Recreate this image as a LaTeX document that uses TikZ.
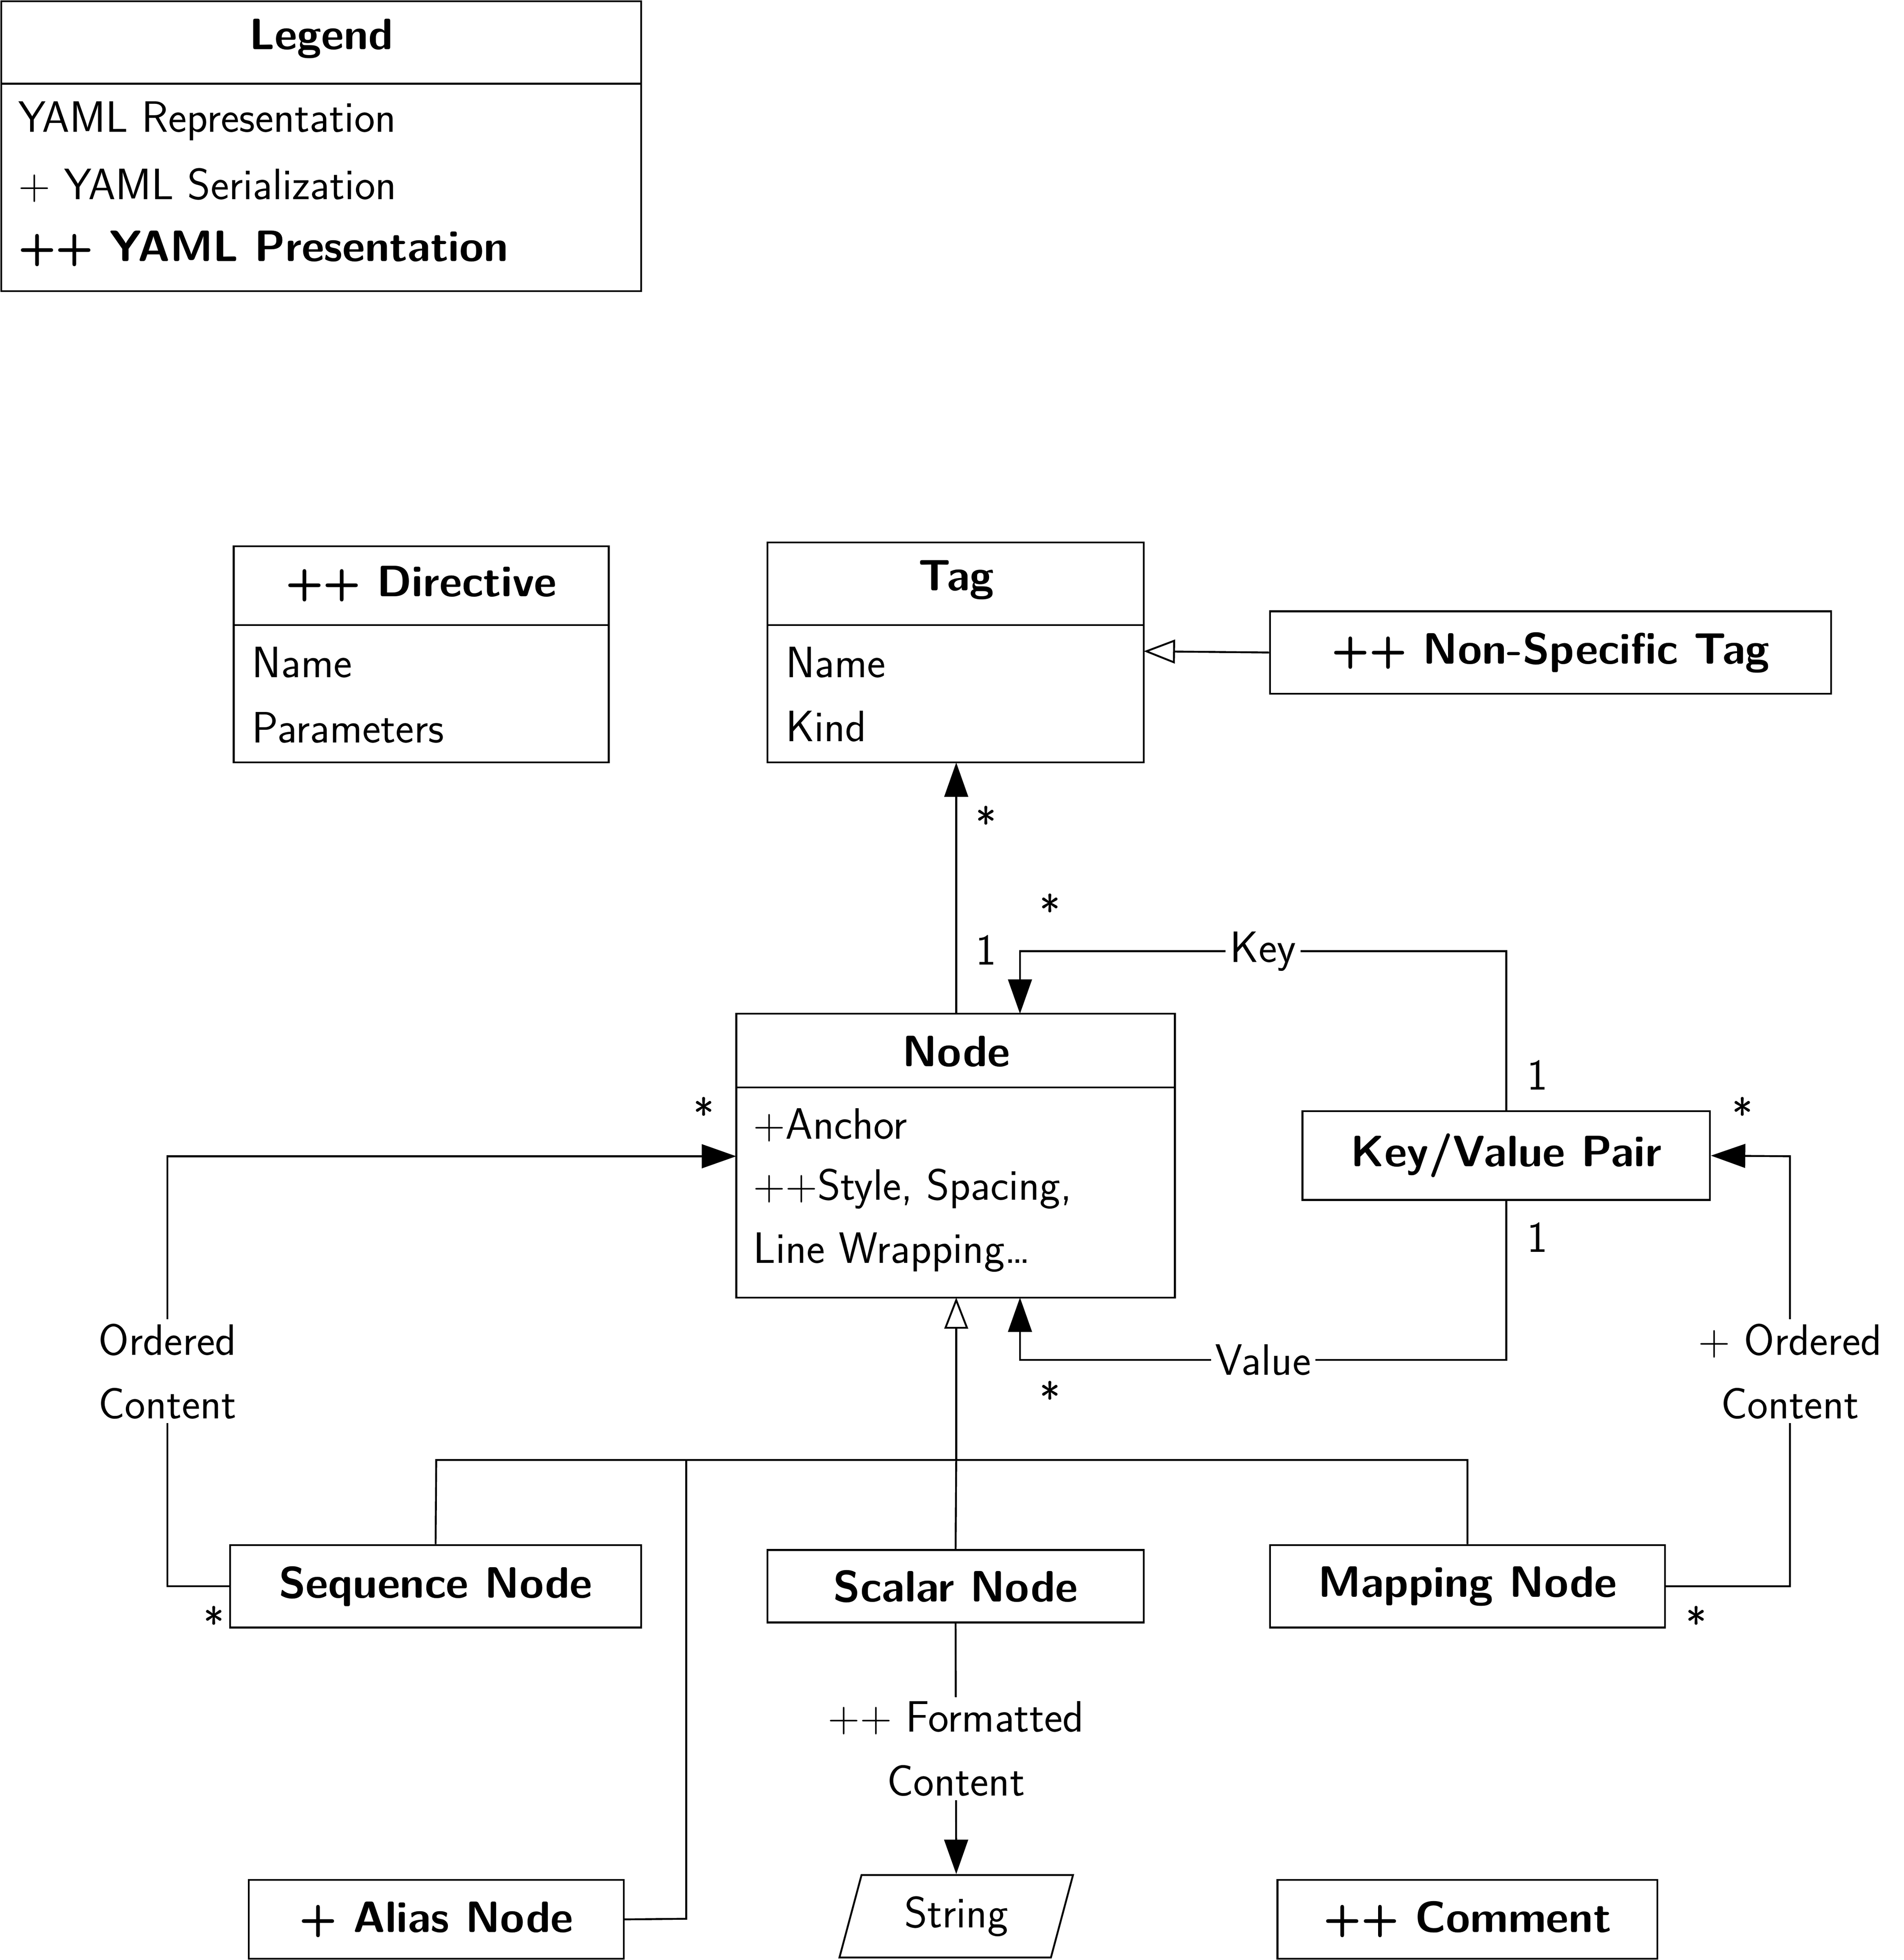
\documentclass[tikz,border=0pt]{standalone}
\usetikzlibrary{arrows.meta,shapes.geometric}
\begin{document}
\begin{tikzpicture}[x=0.02cm,y=-0.02cm,line width=0.85pt,
  every node/.style={font=\fontsize{20}{29}\selectfont\sffamily},
  box/.style={draw,minimum width=0pt},
  lbl/.style={fill=white,inner sep=2pt,align=center},
  fa/.style={-{Triangle[length=0.55cm,width=0.38cm]}},
  oa/.style={-{Triangle[open,length=0.5cm,width=0.38cm]}}]
\useasboundingbox (0,0) rectangle (1523,1568);
% Legend
\draw (1,1) rectangle (513,233); \draw (1,67)--(513,67);
\node (legt) at (257,31) {\bfseries Legend};
\node[anchor=west] (l1) at (8,97) {YAML Representation};
\node[anchor=west] (l2) at (8,148) {+ YAML Serialization};
\node[anchor=west] (l3) at (8,199) {\bfseries ++ YAML Presentation};
% Directive
\draw (187,437) rectangle (487,610); \draw (187,500)--(487,500);
\node (dir) at (337,467) {\bfseries ++ Directive};
\node[anchor=west] (d1) at (195,530) {Name};
\node[anchor=west] (d2) at (195,582) {Parameters};
% Tag
\draw (614,434) rectangle (915,610); \draw (614,500)--(915,500);
\coordinate (tagb) at (765,610); \coordinate (tagr) at (915,521);
\node (tag) at (765,464) {\bfseries Tag};
\node[anchor=west] (t1) at (622,530) {Name};
\node[anchor=west] (t2) at (622,581) {Kind};
% Non-specific
\node[box,minimum width=449*0.02cm,minimum height=66*0.02cm] (nst) at (1240.5,522) {\bfseries ++ Non-Specific Tag};
% Node
\draw (589,811) rectangle (940,1038); \draw (589,870)--(940,870);
\coordinate (ntop) at (765,811); \coordinate (ntop2) at (816,811);
\coordinate (nbot) at (765,1038); \coordinate (nbot2) at (816,1038);
\coordinate (nleft) at (589,925);
\node (node) at (765,841) {\bfseries Node};
\node[anchor=west] (n1) at (596,900) {+Anchor};
\node[anchor=west] (n2) at (596,951) {++Style, Spacing,};
\node[anchor=west] (n3) at (596,1002) {Line Wrapping\dots};
% others
\node[box,minimum width=326*0.02cm,minimum height=71*0.02cm] (kv) at (1205,924.5) {\bfseries Key/Value Pair};
\node[box,minimum width=329*0.02cm,minimum height=66*0.02cm] (seq) at (348.5,1269) {\bfseries Sequence Node};
\node[box,minimum width=301*0.02cm,minimum height=58*0.02cm] (sca) at (764.5,1269) {\bfseries Scalar Node};
\node[box,minimum width=316*0.02cm,minimum height=66*0.02cm] (map) at (1174,1269) {\bfseries Mapping Node};
\node[box,minimum width=300*0.02cm,minimum height=63*0.02cm] (ali) at (349,1535.5) {\bfseries + Alias Node};
\node[box,minimum width=304*0.02cm,minimum height=63*0.02cm] (com) at (1174,1535.5) {\bfseries ++ Comment};
\node[draw,trapezium,trapezium left angle=75,trapezium right angle=105,minimum width=150*0.02cm,minimum height=66*0.02cm,inner sep=2pt] (str) at (765,1533) {String};
% connectors
\draw[fa] (ntop) -- (tagb);
\node (s1) at (789,658) {*}; \node (o1) at (789,760) {1};
\draw[oa] (nst.west) -- (tagr);
\draw[fa] (kv.north) -- (1205,761) -- node[lbl,pos=0.5] (key) {Key} (816,761) -- (ntop2);
\node (k1) at (1230,860) {1}; \node (k2) at (840,728) {*};
\draw[fa] (kv.south) -- (1205,1088) -- node[lbl] (val) {Value} (816,1088) -- (nbot2);
\node (v1) at (1230,990) {1}; \node (v2) at (840,1118) {*};
\draw[fa] (seq.west) -- (134,1269) -- node[lbl] (oc) {Ordered\\Content} (134,925) -- (nleft);
\node (sq1) at (563,891) {*}; \node (sq2) at (171,1298) {*};
\draw[fa] (map.east) -- (1432,1269) -- node[lbl] (poc) {+ Ordered\\Content} (1432,925) -- (kv.east);
\node (m1) at (1394,891) {*}; \node (m2) at (1357,1298) {*};
\draw[oa] (765,1168) -- (nbot);
\draw (seq.north) -- (349,1168) -- (1174,1168) -- (map.north);
\draw (sca.north) -- (765,1168);
\draw (ali.east) -- (549,1535) -- (549,1168);
\draw[fa] (sca.south) -- node[lbl] (fc) {++ Formatted\\Content} (str.north);
\end{tikzpicture}
\end{document}
